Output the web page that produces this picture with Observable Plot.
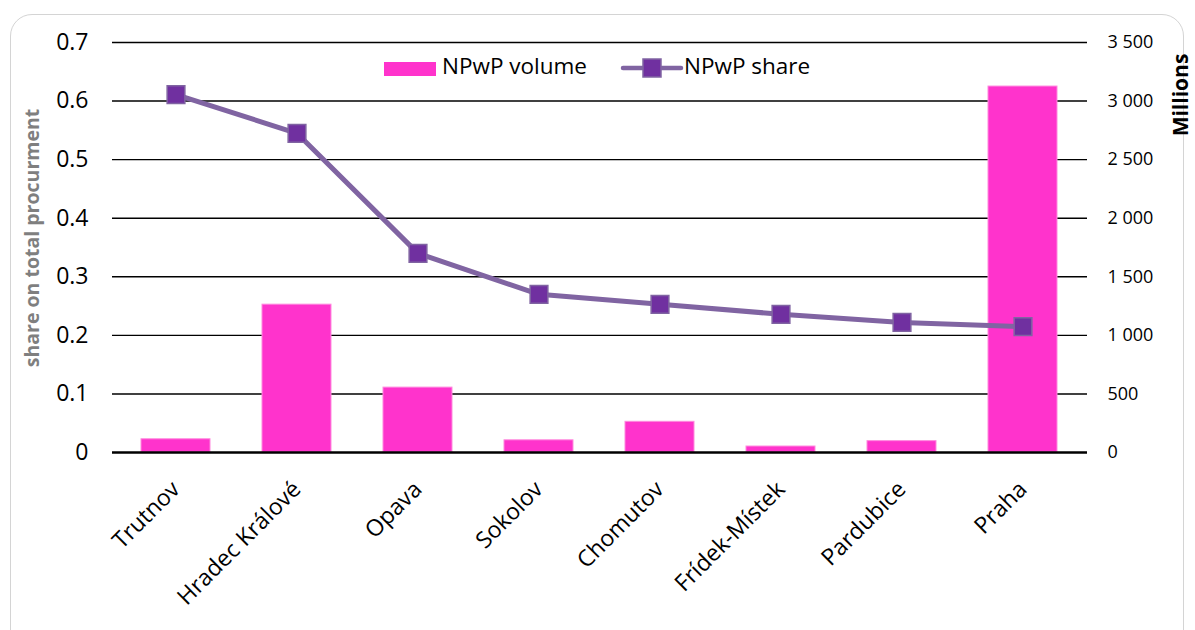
<!DOCTYPE html>
<html>
<head>
<meta charset="utf-8">
<script src="https://cdn.jsdelivr.net/npm/d3@7"></script>
<script src="https://cdn.jsdelivr.net/npm/@observablehq/plot@0.6"></script>
<style>
  html, body { margin: 0; padding: 0; background: #fff; }
  #wrap { position: relative; width: 1195px; height: 630px; overflow: hidden; font-family: 'Open Sans', sans-serif; }
  #box { position: absolute; left: 10px; top: 14px; width: 1174px; height: 640px; border: 1.5px solid #d4d4d4; border-radius: 22px; box-sizing: border-box; }
  .rot { position: absolute; white-space: nowrap; transform: translate(-50%, -50%) rotate(-90deg); font-weight: bold; }
  .leg { position: absolute; font-size: 22.5px; color: #000; white-space: nowrap; line-height: 1; }
  #plot { position: absolute; left: 0; top: 0; }
</style>
</head>
<body>
<div id="wrap">
  <div id="box"></div>
  <div id="plot"></div>
  <div class="rot" style="left:31px; top:238px; font-size:19.5px; color:#7f7f7f;">share on total procurment</div>
  <div class="rot" style="left:1180px; top:95px; font-size:21px; color:#000;">Millions</div>
  <div id="legend"></div>
</div>
<script>
const categories = ["Trutnov", "Hradec Králové", "Opava", "Sokolov", "Chomutov", "Frídek-Místek", "Pardubice", "Praha"];
const volume = [113, 1262, 554, 104, 262, 51, 97, 3124];      // NPwP volume, millions (right axis)
const share = [0.611, 0.545, 0.340, 0.270, 0.253, 0.236, 0.222, 0.215]; // NPwP share (left axis)
const shareTicks = [0, 0.1, 0.2, 0.3, 0.4, 0.5, 0.6, 0.7];
const volumeTicks = [0, 500, 1000, 1500, 2000, 2500, 3000, 3500];
const seriesNames = ["NPwP volume", "NPwP share"];

const volMax = 3500, shareMax = 0.7;
const toShare = v => v * shareMax / volMax;
const rows = categories.map((c, i) => ({category: c, volume: volume[i], share: share[i]}));
const fmt = d3.formatLocale({decimal: ".", thousands: " ", grouping: [3], currency: ["", ""]}).format(",");

const pink = "#FF33CC", lineCol = "#8064A2", markCol = "#7030A0";

const chart = Plot.plot({
  width: 1195, height: 630,
  marginLeft: 112, marginRight: 108, marginTop: 42, marginBottom: 178,
  style: {fontFamily: "'Open Sans', sans-serif", background: "transparent", color: "#000", overflow: "visible"},
  x: {domain: categories, paddingInner: 0.426, paddingOuter: 0.213, label: null},
  y: {domain: [0, shareMax], label: null},
  marks: [
    Plot.ruleY(shareTicks.filter(d => d > 0), {stroke: "#000", strokeWidth: 1.4}),
    Plot.barY(rows, {x: "category", y: d => toShare(d.volume), fill: pink, stroke: "#ff8ade", strokeWidth: 1}),
    Plot.ruleY([0], {stroke: "#000", strokeWidth: 2.6}),
    Plot.line(rows, {x: "category", y: "share", stroke: lineCol, strokeWidth: 5}),
    Plot.dot(rows, {x: "category", y: "share", symbol: "square", r: 10, fill: markCol, stroke: lineCol, strokeWidth: 1.5}),
    Plot.axisY({anchor: "left", ticks: shareTicks, tickFormat: d => d === 0 ? "0" : d.toFixed(1), tickSize: 0, tickPadding: 24, fontSize: 23, label: null}),
    Plot.axisY({anchor: "right", ticks: volumeTicks.map(toShare), tickFormat: d => fmt(Math.round(d * volMax / shareMax)), tickSize: 0, tickPadding: 20, fontSize: 18, label: null}),
    Plot.axisX({tickRotate: -45, tickSize: 0, tickPadding: 33, fontSize: 23, label: null})
  ]
});
document.getElementById("plot").appendChild(chart);

// legend (inside the plot area, as in the reference)
const leg = document.getElementById("legend");
leg.innerHTML = `
  <div style="position:absolute; left:384px; top:62px; width:52px; height:14px; background:${pink};"></div>
  <div class="leg" style="left:442px; top:55px;">${seriesNames[0]}</div>
  <svg style="position:absolute; left:620px; top:57px;" width="64" height="22">
    <line x1="3" y1="11" x2="61" y2="11" stroke="${lineCol}" stroke-width="4.5" stroke-linecap="round"/>
    <rect x="23" y="2" width="18" height="18" fill="${markCol}" stroke="${lineCol}" stroke-width="1.5"/>
  </svg>
  <div class="leg" style="left:684px; top:55px;">${seriesNames[1]}</div>
`;
</script>
</body>
</html>
